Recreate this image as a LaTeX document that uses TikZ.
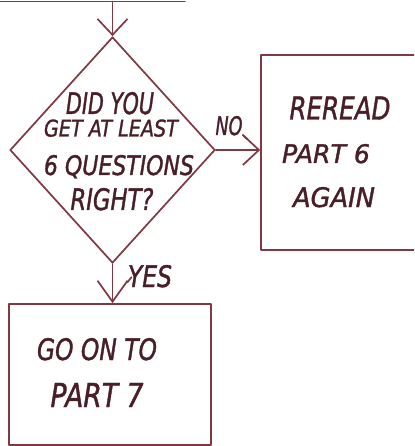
\documentclass[tikz,border=0pt]{standalone}
\usepackage{fontspec}
\usepackage{graphicx}
\setmainfont{DejaVu Sans Condensed}[FakeBold=1.3,ItalicFeatures={FakeBold=1.3}]
\usetikzlibrary{shapes.geometric,arrows.meta}

\definecolor{inkline}{RGB}{128,56,66}
\definecolor{inktext}{RGB}{72,30,40}

% hand-lettered line of text, scaled to a given width and cap height
\newcommand{\handtext}[3]{\resizebox{#1}{#2}{\itshape #3}}

\begin{document}
\begin{tikzpicture}[x=1pt,y=-1pt,
  line/.style={draw=inkline,line width=1.7pt,line cap=round,line join=round},
  barb/.style={line,-{Straight Barb[length=#1,width=30pt,line width=1.7pt]}},
  barb/.default=16pt,
  lbl/.style={inner sep=0pt,anchor=base,text=inktext},
  box/.style={line,rectangle,inner sep=0pt}]

\clip (0,0) rectangle (414,446);
\fill[white] (0,0) rectangle (414,446);

% incoming flow line
\coordinate (tl) at (0,1.5);
\coordinate (tr) at (185,1.5);
\draw[line] (tl) -- (tr);

% decision
\node[line,diamond,inner sep=0pt,minimum width=205pt,minimum height=226pt] (q) at (112.5,150) {};
\node[lbl] (q1) at (110,114) {\handtext{88pt}{22pt}{DID YOU}};
\node[lbl] (q2) at (111,136.5) {\handtext{134pt}{17pt}{GET AT LEAST}};
\node[lbl] (q3) at (119,175) {\handtext{150pt}{20pt}{6 QUESTIONS}};
\node[lbl] (q4) at (112,210) {\handtext{83pt}{22pt}{RIGHT?}};

% outcomes
\node[box,minimum width=170pt,minimum height=195pt] (redo) at (346,152.5) {};
\node[lbl] (r1) at (340,119.5) {\handtext{101pt}{23pt}{REREAD}};
\node[lbl] (r2) at (326,163) {\handtext{88pt}{19pt}{PART 6}};
\node[lbl] (r3) at (334,207) {\handtext{82pt}{20pt}{AGAIN}};

\node[box,minimum width=202pt,minimum height=141pt] (next) at (110,374.5) {};
\node[lbl] (n1) at (97,360) {\handtext{120pt}{22pt}{GO ON TO}};
\node[lbl] (n2) at (97,407) {\handtext{93pt}{24pt}{PART 7}};

% connectors
\coordinate (feed) at (q.north |- tl);
\draw[barb] (feed) -- (q.north);

\draw[barb] (q.east) -- (q.east -| redo.west);
\node[lbl] (no) at (229,135) {\handtext{27pt}{19pt}{NO}};
\draw[line] (no.base east) -- ++(5,4.5);

\draw[barb=21pt] (q.south) -- (q.south |- next.north);
\node[lbl] (yes) at (150,287) {\handtext{44pt}{22pt}{YES}};
\draw[line] ([shift={(15,-21)}]q.south |- next.north) -- ++(4,-5);

\end{tikzpicture}
\end{document}
